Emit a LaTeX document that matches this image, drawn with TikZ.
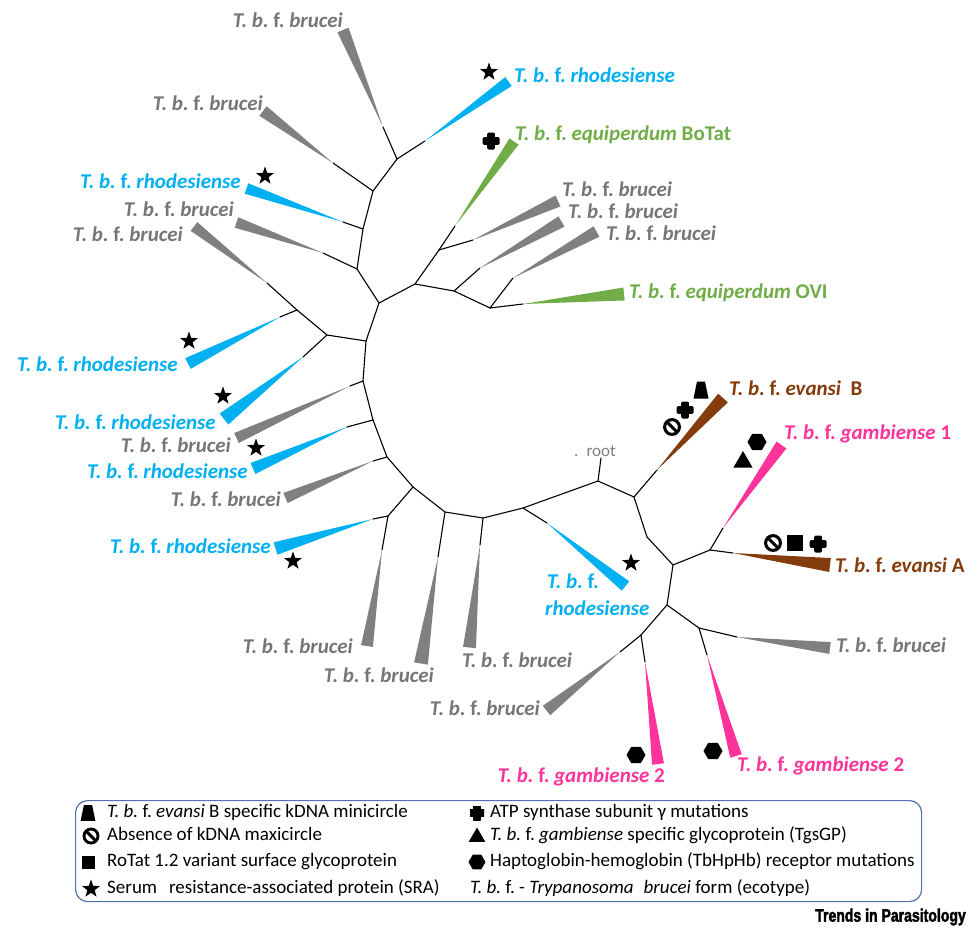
\documentclass[tikz,border=0pt]{standalone}
\usepackage{fontspec}
\setmainfont{Carlito}
\newfontfamily\trendsfont[FakeStretch=0.78,FakeBold=2.2]{Liberation Sans}
\usetikzlibrary{shapes.geometric,calc}
\definecolor{cgray}{RGB}{128,128,128}
\definecolor{ctxtgray}{RGB}{118,118,118}
\definecolor{cblue}{RGB}{0,176,240}
\definecolor{cgreen}{RGB}{112,173,71}
\definecolor{cbrown}{RGB}{132,60,12}
\definecolor{cpink}{RGB}{255,51,153}
\definecolor{cbox}{RGB}{84,114,172}
\newcommand{\TBF}[1]{\textit{T. b.} f. \textit{#1}}
% from node, apex, centre of wide end, half width, colour
\newcommand{\clade}[5]{\draw[branch] (#1) -- (#2);
  \fill[#5] (#2) -- ($(#3)!#4!90:(#2)$) -- ($(#3)!#4!-90:(#2)$) -- cycle;}
\AtBeginDocument{\frenchspacing}
\begin{document}
\begin{tikzpicture}[x=1pt,y=-1pt,
  branch/.style={line width=1.1pt, black, line cap=round, line join=round},
  lab/.style={font=\fontsize{21}{25}\selectfont\bfseries, inner sep=0pt, text height=14pt, text depth=4pt},
  leg/.style={font=\fontsize{19}{22}\selectfont, inner sep=0pt, text height=13pt, text depth=4pt},
  star sym/.style={star, star points=5, star point ratio=2.5, fill=black, inner sep=0pt, minimum size=#1},
  star sym/.default=19,
  hex sym/.style={regular polygon, regular polygon sides=6, fill=black, inner sep=0pt, minimum size=#1},
  hex sym/.default=19,
  tri sym/.style={regular polygon, regular polygon sides=3, fill=black, inner sep=0pt, minimum size=#1},
  tri sym/.default=22,
  sq sym/.style={rectangle, fill=black, inner sep=0pt, minimum size=#1},
  sq sym/.default=16,
  plus sym/.style={rectangle, inner sep=0pt, minimum size=#1,
    path picture={\begin{scope}[shift={(path picture bounding box.center)}, scale=#1/17]
      \fill[black, rounded corners=1.4pt] (-3.9,-8.5) rectangle (3.9,8.5);
      \fill[black, rounded corners=1.4pt] (-8.5,-3.9) rectangle (8.5,3.9);
      \end{scope}}},
  plus sym/.default=17,
  trap sym/.style={rectangle, inner sep=0pt, minimum size=#1,
    path picture={\fill[black, shift={(path picture bounding box.center)}, scale=#1/17]
      (-7.5,8.5) -- (7.5,8.5) -- (4,-8.5) -- (-4,-8.5) -- cycle;}},
  trap sym/.default=17,
  no sym/.style={circle, draw=black, inner sep=0pt, minimum size=#1*0.78, line width=#1*0.16,
    path picture={\draw[line width=#1*0.16] (path picture bounding box.north west) -- (path picture bounding box.south east);}},
  no sym/.default=19
]
\useasboundingbox (0,0) rectangle (969,929);

% internal nodes
\coordinate (A) at (397,159);
\coordinate (B) at (373,191);
\coordinate (C) at (363,229);
\coordinate (D) at (357,269);
\coordinate (E) at (379,303);
\coordinate (Q) at (415,284);
\coordinate (P) at (439,250);
\coordinate (R) at (454,291);
\coordinate (S) at (490,308);
\coordinate (H) at (297,310);
\coordinate (I) at (327,335);
\coordinate (J) at (366,341);
\coordinate (K) at (363,381);
\coordinate (L) at (373,420);
\coordinate (M) at (387,457);
\coordinate (N) at (413,487);
\coordinate (O) at (388,516);
\coordinate (T) at (445,512);
\coordinate (U) at (483,518);
\coordinate (V) at (523,508);
\coordinate (W) at (598,481);
\coordinate (Wr) at (601,458);
\coordinate (X) at (634,497);
\coordinate (Y) at (647,537);
\coordinate (Z) at (673,565);
\coordinate (AA) at (710,550);
\coordinate (AB) at (667,605);
\coordinate (AC) at (641,635);
\coordinate (AD) at (699,628);

% backbone
\draw[branch] (A)--(B)--(C)--(D)--(E)--(J)--(K)--(L)--(M)--(N)--(T)--(U)--(V)--(W)--(X)--(Y)--(Z)--(AB)--(AC);
\draw[branch] (E)--(Q)--(R)--(S);
\draw[branch] (Q)--(P);
\draw[branch] (H)--(I)--(J);
\draw[branch] (N)--(O);
\draw[branch] (W)--(Wr);
\draw[branch] (Z)--(AA);
\draw[branch] (AB)--(AD);

% clades
\clade{A}{383,127}{343,30}{6pt}{cgray}
\clade{A}{425,141}{508.5,81.5}{5.5pt}{cblue}
\clade{B}{333,163}{263,111}{6pt}{cgray}
\clade{C}{343,222}{246.5,188.5}{5.5pt}{cblue}
\clade{D}{323,253}{236.5,222.5}{5.5pt}{cgray}
\clade{H}{267,283}{194,226.5}{5.5pt}{cgray}
\clade{H}{280,317}{188,363.5}{6pt}{cblue}
\clade{I}{303,357}{224,419}{7pt}{cblue}
\clade{K}{350,386}{236.5,438}{5.5pt}{cgray}
\clade{L}{347,427}{253,468.5}{6pt}{cblue}
\clade{M}{373,461}{285.5,498}{5.5pt}{cgray}
\clade{O}{373,519}{275.5,548.5}{6.5pt}{cblue}
\clade{O}{382,550}{367,646}{6pt}{cgray}
\clade{T}{438,557}{421,663.5}{7pt}{cgray}
\clade{U}{480,545}{469.5,647.5}{6.5pt}{cgray}
\clade{V}{547,523}{625.5,586}{6pt}{cblue}
\clade{X}{657,470}{723,398}{6.5pt}{cbrown}
\clade{AA}{723,528}{781.5,445}{6pt}{cpink}
\clade{AA}{733,553}{830,565}{7pt}{cbrown}
\clade{AC}{620,652}{546.5,710.5}{6pt}{cgray}
\clade{AC}{645,662}{658,764}{6pt}{cpink}
\clade{AD}{737,637}{830,648}{6pt}{cgray}
\clade{AD}{707,655}{736,756}{6pt}{cpink}
\clade{P}{455,226}{514,141.5}{5.5pt}{cgreen}
\clade{P}{473,240}{558,201}{6pt}{cgray}
\clade{R}{480,268}{561.5,221.5}{6pt}{cgray}
\clade{S}{513,278}{596.5,231.5}{6pt}{cgray}
\clade{S}{523,304}{624,294}{6.5pt}{cgreen}

% labels
\node[lab, text=ctxtgray, anchor=east] (l1) at (343,22) {\TBF{brucei}};
\node[lab, text=cblue, anchor=west] (l2) at (514,77) {\TBF{rhodesiense}};
\node[lab, text=ctxtgray, anchor=east] (l3) at (263,105) {\TBF{brucei}};
\node[lab, text=cblue, anchor=east] (l4) at (241,183) {\TBF{rhodesiense}};
\node[lab, text=ctxtgray, anchor=east] (l5) at (234,211) {\TBF{brucei}};
\node[lab, text=ctxtgray, anchor=east] (l6) at (183,236) {\TBF{brucei}};
\node[lab, text=cblue, anchor=east] (l7) at (178,366) {\TBF{rhodesiense}};
\node[lab, text=cblue, anchor=east] (l8) at (216,424) {\TBF{rhodesiense}};
\node[lab, text=ctxtgray, anchor=east] (l9) at (231,447) {\TBF{brucei}};
\node[lab, text=cblue, anchor=east] (l10) at (248,473) {\TBF{rhodesiense}};
\node[lab, text=ctxtgray, anchor=east] (l11) at (281,501) {\TBF{brucei}};
\node[lab, text=cblue, anchor=east] (l12) at (271,548) {\TBF{rhodesiense}};
\node[lab, text=ctxtgray, anchor=east] (l13) at (353,648) {\TBF{brucei}};
\node[lab, text=ctxtgray, anchor=east] (l14) at (434,677) {\TBF{brucei}};
\node[lab, text=ctxtgray, anchor=west] (l15) at (462,662) {\TBF{brucei}};
\node[lab, text=cblue, anchor=west] (l16a) at (547,583) {\textit{T. b.} f.};
\node[lab, text=cblue, anchor=west] (l16b) at (545,610) {\textit{rhodesiense}};
\node[lab, text=cbrown, anchor=west] (l17) at (729,390) {\TBF{evansi}\hspace{0.45em}B};
\node[lab, text=cpink, anchor=west] (l18) at (784,434) {\TBF{gambiense} 1};
\node[lab, text=cbrown, anchor=west] (l19) at (835,567) {\TBF{evansi} A};
\node[lab, text=ctxtgray, anchor=east] (l20) at (540,710) {\TBF{brucei}};
\node[lab, text=cpink, anchor=east] (l21) at (665,777) {\TBF{gambiense} 2};
\node[lab, text=ctxtgray, anchor=west] (l22) at (836,647) {\TBF{brucei}};
\node[lab, text=cpink, anchor=west] (l23) at (737,766) {\TBF{gambiense} 2};
\node[lab, text=cgreen, anchor=west] (l24) at (515,135) {\TBF{equiperdum} BoTat};
\node[lab, text=ctxtgray, anchor=west] (l25) at (562,191) {\TBF{brucei}};
\node[lab, text=ctxtgray, anchor=west] (l26) at (568,213) {\TBF{brucei}};
\node[lab, text=ctxtgray, anchor=west] (l27) at (606,235) {\TBF{brucei}};
\node[lab, text=cgreen, anchor=west] (l28) at (629,293) {\TBF{equiperdum} OVI};
\node[font=\fontsize{17}{20}\selectfont, text=cgray, inner sep=0pt, anchor=east] (rootlab) at (616,451) {.\hspace{8pt}root};

% markers on tree
\node[star sym] (s2) at (489,72) {};
\node[star sym] (s4) at (265,176) {};
\node[star sym] (s7) at (189,341) {};
\node[star sym] (s8) at (223,396) {};
\node[star sym] (s10) at (256,448) {};
\node[star sym] (s12) at (293,561) {};
\node[star sym] (s16) at (631,563) {};
\node[plus sym] (p24) at (491,141) {};
\node[trap sym] (t17) at (701,390) {};
\node[plus sym] (p17) at (685,410) {};
\node[no sym] (n17) at (672,427) {};
\node[hex sym] (h18) at (757,442) {};
\node[tri sym] (tr18) at (743,462) {};
\node[no sym] (n19) at (773,543) {};
\node[sq sym] (q19) at (795,543) {};
\node[plus sym] (p19) at (818,544) {};
\node[hex sym] (h21) at (636,755) {};
\node[hex sym] (h23) at (713,751) {};

% legend
\node[draw=cbox, line width=1.2pt, rounded corners=12pt, minimum width=846pt, minimum height=101pt, inner sep=0pt, anchor=north west] (legend) at (75,800) {};
\node[trap sym=15] (k1) at (88,813) {};
\node[no sym=18] (k2) at (91,836) {};
\node[sq sym=13] (k3) at (88,862) {};
\node[star sym=19] (k4) at (91,889) {};
\node[plus sym=14] (k5) at (477,813) {};
\node[tri sym=19] (k6) at (477,837) {};
\node[hex sym=17] (k7) at (477,862) {};
\node[leg, anchor=west] (g1) at (107,813) {\TBF{evansi} B specific kDNA minicircle};
\node[leg, anchor=west] (g2) at (107,836) {Absence of kDNA maxicircle};
\node[leg, anchor=west] (g3) at (107,862) {RoTat 1.2 variant surface glycoprotein};
\node[leg, anchor=west] (g4) at (107,889) {Serum\hspace{0.4em} resistance-associated protein (SRA)};
\node[leg, anchor=west] (g5) at (490,813) {ATP synthase subunit γ mutations};
\node[leg, anchor=west] (g6) at (490,836) {\TBF{gambiense} specific glycoprotein (TgsGP)};
\node[leg, anchor=west] (g7) at (490,862) {Haptoglobin-hemoglobin (TbHpHb) receptor mutations};
\node[leg, anchor=west] (g8) at (470,889) {\textit{T. b.} f. - \textit{Trypanosoma\hspace{0.3em} brucei} form (ecotype)};
\node[font=\trendsfont\bfseries\fontsize{18}{20}\selectfont, inner sep=0pt, anchor=east] (trends) at (966,917) {Trends in Parasitology};
\end{tikzpicture}
\end{document}
